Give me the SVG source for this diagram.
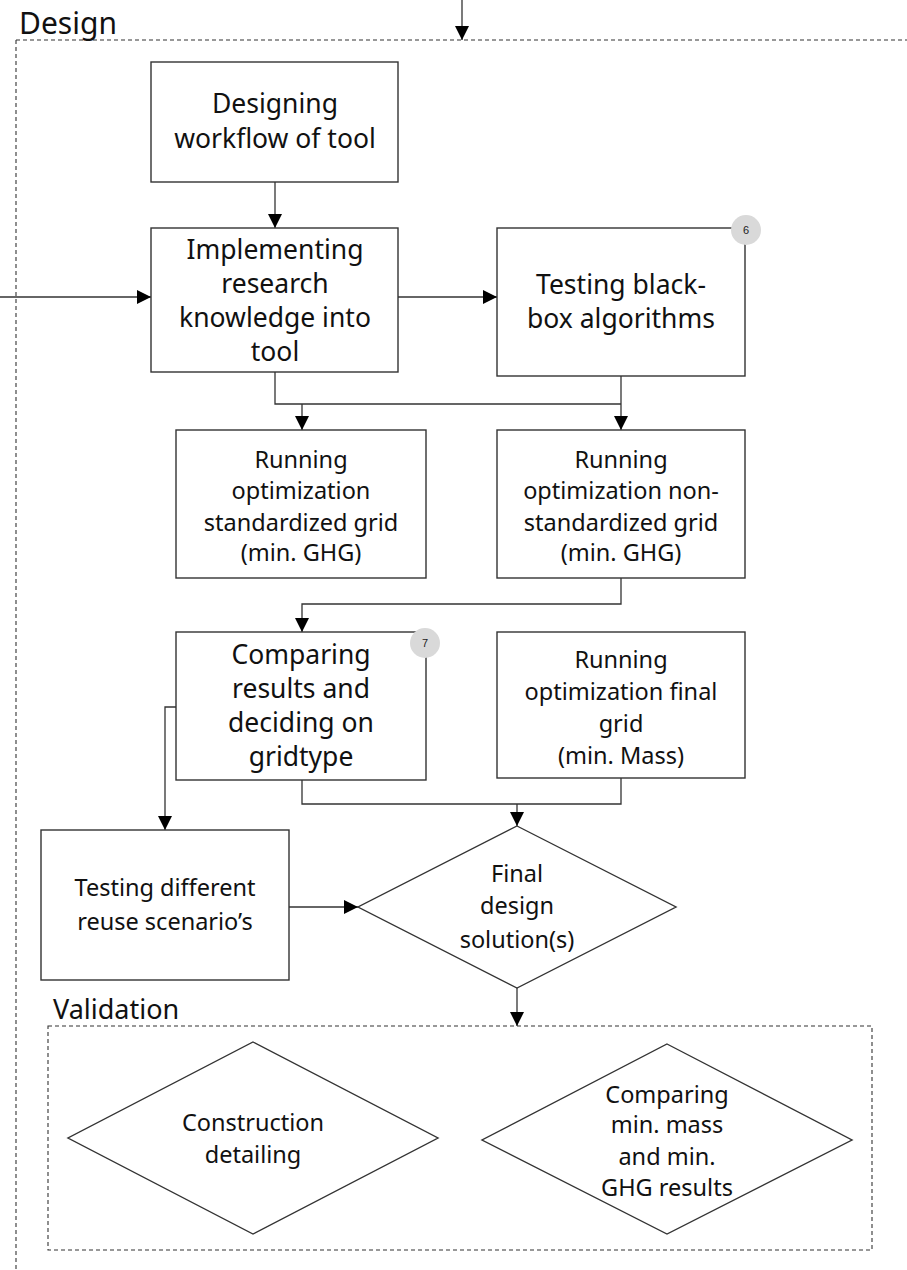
<svg xmlns="http://www.w3.org/2000/svg" width="907" height="1270" viewBox="0 0 907 1270">
  <defs>
    <marker id="arrow" viewBox="0 0 10 10" refX="10" refY="5" markerWidth="14" markerHeight="14" markerUnits="userSpaceOnUse" orient="auto">
      <path d="M0,0 L10,5 L0,10 Z" fill="#000"/>
    </marker>
    <style>
      .box { fill: #fff; stroke: #333; stroke-width: 1.4; }
      .frame { fill: none; stroke: #333; stroke-width: 1.1; stroke-dasharray: 4 3; }
      .line { fill: none; stroke: #333; stroke-width: 1.3; }
      .t { font-family: "Noto Sans", "Liberation Sans", sans-serif; font-size: 26.5px; fill: #111; text-anchor: middle; }
      .c { font-family: "Noto Sans", "Liberation Sans", sans-serif; font-size: 23.5px; fill: #111; text-anchor: middle; }
      .lbl { font-family: "Noto Sans", "Liberation Sans", sans-serif; font-size: 30px; fill: #111; }
      .badge { fill: #d9d9d9; }
      .bt { font-family: "Liberation Sans", sans-serif; font-size: 11px; fill: #222; text-anchor: middle; }
    </style>
  </defs>

  <!-- phase frames -->
  <g id="design-frame">
    <path class="frame" d="M16,40 H907 M16,40 V1270"/>
    <text class="lbl" x="19" y="34">Design</text>
  </g>
  <g id="validation-frame">
    <rect class="frame" x="48" y="1026" width="824" height="224"/>
    <text class="lbl" x="53" y="1019" style="font-size:27px">Validation</text>
  </g>

  <!-- connectors -->
  <g id="connectors">
    <path class="line" d="M462,0 V40" marker-end="url(#arrow)"/>
    <path class="line" d="M275,182 V228" marker-end="url(#arrow)"/>
    <path class="line" d="M0,297 H151" marker-end="url(#arrow)"/>
    <path class="line" d="M398,297 H497" marker-end="url(#arrow)"/>
    <path class="line" d="M275,372 V404 H621"/>
    <path class="line" d="M302,404 V430" marker-end="url(#arrow)"/>
    <path class="line" d="M621,376 V430" marker-end="url(#arrow)"/>
    <path class="line" d="M621,578 V604 H302 V632" marker-end="url(#arrow)"/>
    <path class="line" d="M302,780 V804 H621 V778"/>
    <path class="line" d="M517,804 V826" marker-end="url(#arrow)"/>
    <path class="line" d="M176,707 H165 V830" marker-end="url(#arrow)"/>
    <path class="line" d="M289,907 H358" marker-end="url(#arrow)"/>
    <path class="line" d="M517,988 V1026" marker-end="url(#arrow)"/>
  </g>

  <g id="designing-workflow">
    <rect class="box" x="151" y="62" width="247" height="120"/>
    <text class="t" x="275" y="113">Designing</text>
    <text class="t" x="275" y="148">workflow of tool</text>
  </g>

  <g id="implementing-research">
    <rect class="box" x="151" y="228" width="247" height="144"/>
    <text class="t" x="275" y="259">Implementing</text>
    <text class="t" x="275" y="293">research</text>
    <text class="t" x="275" y="327">knowledge into</text>
    <text class="t" x="275" y="361">tool</text>
  </g>

  <g id="testing-blackbox">
    <rect class="box" x="497" y="228" width="248" height="148"/>
    <text class="t" x="621" y="294">Testing black-</text>
    <text class="t" x="621" y="328">box algorithms</text>
    <circle class="badge" cx="746" cy="230" r="15"/>
    <text class="bt" x="746" y="234">6</text>
  </g>

  <g id="running-standardized">
    <rect class="box" x="176" y="430" width="250" height="148"/>
    <text class="c" x="301" y="468">Running</text>
    <text class="c" x="301" y="499">optimization</text>
    <text class="c" x="301" y="531">standardized grid</text>
    <text class="c" x="301" y="561">(min. GHG)</text>
  </g>

  <g id="running-non-standardized">
    <rect class="box" x="497" y="430" width="248" height="148"/>
    <text class="c" x="621" y="468">Running</text>
    <text class="c" x="621" y="499">optimization non-</text>
    <text class="c" x="621" y="531">standardized grid</text>
    <text class="c" x="621" y="561">(min. GHG)</text>
  </g>

  <g id="comparing-results">
    <rect class="box" x="176" y="632" width="250" height="148"/>
    <text class="t" x="301" y="664">Comparing</text>
    <text class="t" x="301" y="698">results and</text>
    <text class="t" x="301" y="732">deciding on</text>
    <text class="t" x="301" y="766">gridtype</text>
    <circle class="badge" cx="425" cy="643" r="15"/>
    <text class="bt" x="425" y="647">7</text>
  </g>

  <g id="running-final">
    <rect class="box" x="497" y="632" width="248" height="146"/>
    <text class="c" x="621" y="668">Running</text>
    <text class="c" x="621" y="700">optimization final</text>
    <text class="c" x="621" y="732">grid</text>
    <text class="c" x="621" y="764">(min. Mass)</text>
  </g>

  <g id="testing-reuse">
    <rect class="box" x="41" y="830" width="248" height="150"/>
    <text class="c" x="165" y="896">Testing different</text>
    <text class="c" x="165" y="930">reuse scenario’s</text>
  </g>

  <g id="final-design">
    <polygon class="box" points="517,826 676,907 517,988 358,907"/>
    <text class="c" x="517" y="882">Final</text>
    <text class="c" x="517" y="914">design</text>
    <text class="c" x="517" y="948">solution(s)</text>
  </g>

  <g id="construction-detailing">
    <polygon class="box" points="253,1042 438,1138 253,1234 68,1138"/>
    <text class="c" x="253" y="1131">Construction</text>
    <text class="c" x="253" y="1163">detailing</text>
  </g>

  <g id="comparing-mass-ghg">
    <polygon class="box" points="667,1044 852,1140 667,1234 482,1140"/>
    <text class="c" x="667" y="1103">Comparing</text>
    <text class="c" x="667" y="1133">min. mass</text>
    <text class="c" x="667" y="1165">and min.</text>
    <text class="c" x="667" y="1196">GHG results</text>
  </g>
</svg>
